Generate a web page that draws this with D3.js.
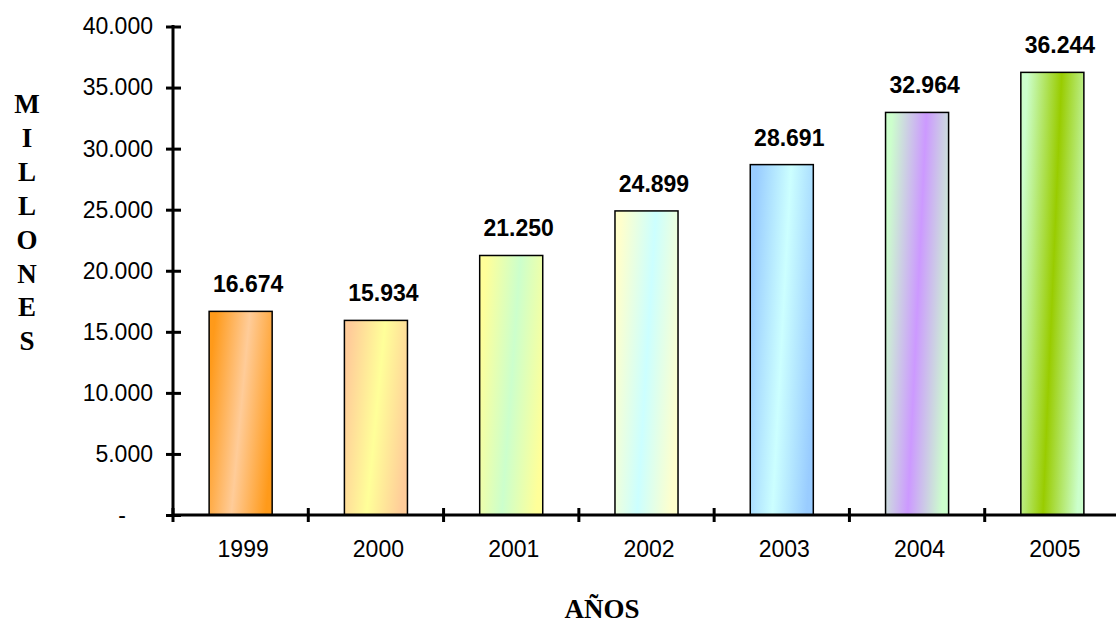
<!DOCTYPE html>
<html>
<head>
<meta charset="utf-8">
<script src="https://cdn.jsdelivr.net/npm/d3@7"></script>
<style>
  html, body { margin: 0; padding: 0; background: #fff; }
  svg { display: block; }
</style>
</head>
<body>
<svg id="chart" width="1116" height="624"></svg>
<script>
// Yearly totals, in millions
const years = ["1999", "2000", "2001", "2002", "2003", "2004", "2005"];
const values = [16674, 15934, 21250, 24899, 28691, 32964, 36244];
// Edge colour and middle colour of each bar's gradient fill
const edgeColors = ["#ff9a1a", "#ffcc99", "#ffff99", "#ffffcc", "#99ccff", "#ccffcc", "#ccffcc"];
const midColors  = ["#ffcc99", "#ffff99", "#ccffcc", "#ccffff", "#ccffff", "#cc99ff", "#99cc00"];
const yTicks = [0, 5000, 10000, 15000, 20000, 25000, 30000, 35000, 40000];
const yTitle = "MILLONES";
const xTitle = "AÑOS";

const svg = d3.select("#chart");
const sans = "'Liberation Sans', Arial, sans-serif";
const serif = "'Liberation Serif', 'Times New Roman', serif";

const es = d3.formatLocale({ decimal: ",", thousands: ".", grouping: [3], currency: ["", ""] });
const fmt = es.format(",d");

const x = d3.scaleBand().domain(years).range([173, 1120]).paddingInner(0.534).paddingOuter(0.267);
const y = d3.scaleLinear().domain([0, 40000]).range([515, 26.5]);

// Gradient fills: edge colour -> middle colour -> edge colour, slightly tilted
const defs = svg.append("defs");
const k = 0.3;
years.forEach((yr, i) => {
  const g = defs.append("linearGradient")
    .attr("id", "grad" + yr)
    .attr("x1", 0).attr("y1", 0.5 - k / 2)
    .attr("x2", 1).attr("y2", 0.5 + k / 2);
  g.append("stop").attr("offset", "0").attr("stop-color", edgeColors[i]);
  g.append("stop").attr("offset", "0.5").attr("stop-color", midColors[i]);
  g.append("stop").attr("offset", "1").attr("stop-color", edgeColors[i]);
});

// Bars
svg.append("g").selectAll("rect")
  .data(years)
  .join("rect")
  .attr("x", d => x(d))
  .attr("y", (d, i) => y(values[i]))
  .attr("width", x.bandwidth())
  .attr("height", (d, i) => y(0) - y(values[i]))
  .attr("fill", d => "url(#grad" + d + ")")
  .attr("stroke", "#000")
  .attr("stroke-width", 1.5);

// Value labels
svg.append("g").selectAll("text")
  .data(years)
  .join("text")
  .attr("x", d => x(d) + x.bandwidth() / 2 + 7.5)
  .attr("y", (d, i) => y(values[i]) - 19)
  .attr("text-anchor", "middle")
  .attr("font-family", sans)
  .attr("font-weight", "bold")
  .attr("font-size", 23)
  .attr("fill", "#000")
  .text((d, i) => fmt(values[i]));

// Y axis: ticks cross the line on both sides
const yAxis = d3.axisLeft(y)
  .tickValues(yTicks)
  .tickSize(0)
  .tickPadding(20)
  .tickFormat(v => v === 0 ? "-" : fmt(v));
const yg = svg.append("g").attr("transform", "translate(173,0)").call(yAxis);
yg.select(".domain").remove();
yg.selectAll(".tick text")
  .attr("font-family", sans)
  .attr("font-size", 23)
  .attr("fill", "#000")
  .attr("dx", v => v === 0 ? -27 : 0);
yg.selectAll(".tick").append("line")
  .attr("x1", -7).attr("x2", 8)
  .attr("stroke", "#000").attr("stroke-width", 3);
yg.append("line")
  .attr("x1", 0).attr("x2", 0)
  .attr("y1", y(40000) - 1.5).attr("y2", y(0) + 1.5)
  .attr("stroke", "#000").attr("stroke-width", 3);

// X axis: line, boundary ticks, year labels
const xg = svg.append("g");
xg.append("line")
  .attr("x1", x.range()[0]).attr("x2", x.range()[1])
  .attr("y1", y(0)).attr("y2", y(0))
  .attr("stroke", "#000").attr("stroke-width", 3);
const bounds = years.map(d => x(d) + x.bandwidth() / 2 - x.step() / 2);
xg.selectAll("line.xt")
  .data(bounds)
  .join("line")
  .attr("class", "xt")
  .attr("x1", d => d).attr("x2", d => d)
  .attr("y1", y(0) - 7).attr("y2", y(0) + 7)
  .attr("stroke", "#000").attr("stroke-width", 3);
xg.selectAll("text")
  .data(years)
  .join("text")
  .attr("x", d => x(d) + x.bandwidth() / 2 + 2.5)
  .attr("y", 557)
  .attr("text-anchor", "middle")
  .attr("font-family", sans)
  .attr("font-size", 23)
  .attr("fill", "#000")
  .text(d => d);

// Vertical axis title, one letter per line
svg.append("g").selectAll("text")
  .data(yTitle.split(""))
  .join("text")
  .attr("x", 27)
  .attr("y", (d, i) => 113 + i * 33.9)
  .attr("text-anchor", "middle")
  .attr("font-family", serif)
  .attr("font-weight", "bold")
  .attr("font-size", 27)
  .attr("fill", "#000")
  .text(d => d);

// Horizontal axis title
svg.append("text")
  .attr("x", 602)
  .attr("y", 618)
  .attr("text-anchor", "middle")
  .attr("font-family", serif)
  .attr("font-weight", "bold")
  .attr("font-size", 27)
  .attr("fill", "#000")
  .text(xTitle);
</script>
</body>
</html>
